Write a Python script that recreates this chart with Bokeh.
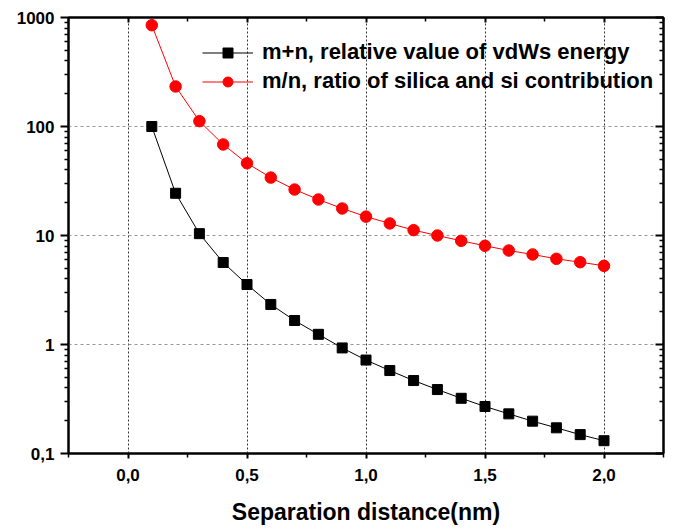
from bokeh.plotting import figure
from bokeh.models import (FixedTicker, LinearAxis, LogAxis, Range1d, Legend, LegendItem)
from bokeh.embed import file_html
from bokeh.resources import INLINE

# ---- data ----
x_nm = [0.1, 0.2, 0.3, 0.4, 0.5, 0.6, 0.7, 0.8, 0.9, 1.0,
        1.1, 1.2, 1.3, 1.4, 1.5, 1.6, 1.7, 1.8, 1.9, 2.0]
m_plus_n = [100, 24.4, 10.4, 5.65, 3.55, 2.33, 1.66, 1.24, 0.93, 0.72,
            0.577, 0.467, 0.386, 0.321, 0.27, 0.231, 0.198, 0.172, 0.149, 0.131]
m_over_n = [850, 233, 112, 68.4, 46, 34, 26.4, 21.4, 17.7, 14.9,
            12.9, 11.2, 10.0, 8.94, 8.05, 7.28, 6.70, 6.11, 5.69, 5.27]

label_black = "m+n, relative value of vdWs energy"
label_red = "m/n, ratio of silica and si contribution"
x_title = "Separation distance(nm)"

x_ticks = [0.0, 0.5, 1.0, 1.5, 2.0]
x_tick_labels = ["0,0", "0,5", "1,0", "1,5", "2,0"]
x_minor = [-0.25, 0.25, 0.75, 1.25, 1.75, 2.25]
y_ticks = [0.1, 1, 10, 100, 1000]
y_tick_labels = ["0,1", "1", "10", "100", "1000"]
y_minor = [k * 10.0 ** e for e in range(-1, 3) for k in range(2, 10)]

FONT = "Liberation Sans"

p = figure(width=679, height=529, y_axis_type="log",
           x_range=Range1d(-0.25, 2.25), y_range=Range1d(0.1, 1000),
           output_backend="svg", toolbar_location=None,
           min_border_left=68, min_border_right=16, min_border_top=17, min_border_bottom=76)
p.outline_line_color = "black"
p.outline_line_width = 2

xt = FixedTicker(ticks=x_ticks, minor_ticks=x_minor)
yt = FixedTicker(ticks=y_ticks, minor_ticks=y_minor)

xa = p.xaxis[0]
xa.ticker = xt
xa.major_label_overrides = dict(zip(x_ticks, x_tick_labels))
xa.major_label_text_font = FONT
xa.major_label_text_font_style = "bold"
xa.major_label_text_font_size = "17px"
xa.major_label_text_color = "black"
xa.major_label_standoff = 10
xa.major_tick_in = 0
xa.major_tick_out = 5
xa.minor_tick_in = 0
xa.minor_tick_out = 4
xa.axis_line_width = 2
xa.major_tick_line_width = 2
xa.minor_tick_line_width = 1.5
xa.axis_label = x_title
xa.axis_label_text_font = FONT
xa.axis_label_text_font_style = "bold"
xa.axis_label_text_font_size = "23px"
xa.axis_label_text_color = "black"
xa.axis_label_standoff = 15

ya = p.yaxis[0]
ya.ticker = yt
ya.major_label_overrides = dict(zip(y_ticks, y_tick_labels))
ya.major_label_text_font = FONT
ya.major_label_text_font_style = "bold"
ya.major_label_text_font_size = "17px"
ya.major_label_text_color = "black"
ya.major_label_standoff = 6
ya.major_tick_in = 0
ya.major_tick_out = 8
ya.minor_tick_in = 0
ya.minor_tick_out = 4
ya.axis_line_width = 2
ya.major_tick_line_width = 2
ya.minor_tick_line_width = 1.5

top = LinearAxis(ticker=xt, major_label_text_font_size="0px", major_label_standoff=0,
                 major_tick_in=5, major_tick_out=0, minor_tick_in=4, minor_tick_out=0,
                 axis_line_width=2, major_tick_line_width=2, minor_tick_line_width=1.5)
top.major_label_overrides = {t: "" for t in x_ticks}
p.add_layout(top, "above")
right = LogAxis(ticker=yt, major_label_text_font_size="0px", major_label_standoff=0,
                major_tick_in=8, major_tick_out=0, minor_tick_in=4, minor_tick_out=0,
                axis_line_width=2, major_tick_line_width=2, minor_tick_line_width=1.5)
right.major_label_overrides = {t: "" for t in y_ticks}
p.add_layout(right, "right")

p.xgrid.grid_line_color = "#333333"
p.xgrid.grid_line_dash = "2 2"
p.xgrid.grid_line_width = 1
p.ygrid.grid_line_color = "#999999"
p.ygrid.grid_line_dash = "3 3"
p.ygrid.grid_line_width = 1

bl = p.line(x_nm, m_plus_n, line_color="black", line_width=1)
bm = p.scatter(x_nm, m_plus_n, marker="square", size=10, fill_color="black", line_color="black")
rl = p.line(x_nm, m_over_n, line_color="red", line_width=1)
rm = p.scatter(x_nm, m_over_n, marker="circle", size=11.5, fill_color="red", line_color="red")

legend = Legend(items=[LegendItem(label=label_black, renderers=[bl, bm]),
                       LegendItem(label=label_red, renderers=[rl, rm])],
                location=(134, 359), padding=0, margin=0, spacing=3,
                glyph_width=51, glyph_height=25, label_height=25, label_standoff=9,
                label_text_font=FONT, label_text_font_style="bold",
                label_text_font_size="22px", label_text_color="black",
                background_fill_alpha=0, border_line_alpha=0)
p.add_layout(legend, "center")

with open("out.html", "w") as f:
    f.write(file_html(p, INLINE))
